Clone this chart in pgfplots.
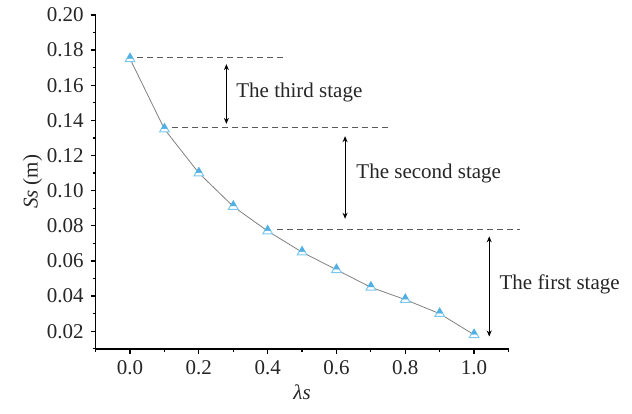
\documentclass[border=0pt]{standalone}
\usepackage{fontspec}
\setmainfont{Liberation Serif}
\usepackage{pgfplots}
\pgfplotsset{compat=1.18}
\usetikzlibrary{arrows.meta}
\definecolor{mkfill}{RGB}{80,176,228}
\definecolor{mkdraw}{RGB}{125,200,240}
\definecolor{dashc}{RGB}{90,90,90}
\begin{document}
\begin{tikzpicture}
\begin{axis}[
  scale only axis,
  width=206.5pt, height=167pt,
  xmin=-0.1, xmax=1.1, ymin=0.01, ymax=0.20,
  axis x line*=bottom, axis y line*=left,
  axis line style={line width=0.8pt, -},
  xtick={0,0.2,0.4,0.6,0.8,1.0},
  minor xtick={-0.1,0.1,0.3,0.5,0.7,0.9,1.1},
  ytick={0.02,0.04,...,0.201},
  minor ytick={0.01,0.03,0.05,0.07,0.09,0.11,0.13,0.15,0.17,0.19},
  tick align=outside,
  major tick length=2.5pt, minor tick length=1.5pt,
  tick style={line width=0.6pt, black},
  /pgf/number format/assume math mode=true,
  xticklabel style={/pgf/number format/.cd, fixed, fixed zerofill, precision=1},
  yticklabel style={/pgf/number format/.cd, fixed, fixed zerofill, precision=2},
  scaled y ticks=false,
  ticklabel style={font=\fontsize{10.5}{12}\selectfont, text=black!85},
  label style={font=\fontsize{10.5}{12}\selectfont, text=black!85},
  xlabel={\textit{λs}},
  ylabel={\textit{Ss} (m)},
  xlabel style={yshift=2pt},
  ylabel style={yshift=-4.5pt},
  clip=false,
]
\addplot[color=gray, line width=0.4pt, mark=triangle*, mark size=2.8pt,
  mark options={fill=white, draw=mkdraw, line width=0.5pt, solid}]
  coordinates {(0.0,0.175) (0.1,0.135) (0.2,0.110) (0.3,0.091) (0.4,0.077)
  (0.5,0.065) (0.6,0.055) (0.7,0.045) (0.8,0.038) (0.9,0.030) (1.0,0.018)};
\addplot[draw=none, mark=triangle*, mark size=1.7pt,
  mark options={fill=mkfill, draw=mkfill, line width=0.2pt, yshift=1.1pt}]
  coordinates {(0.0,0.175) (0.1,0.135) (0.2,0.110) (0.3,0.091) (0.4,0.077)
  (0.5,0.065) (0.6,0.055) (0.7,0.045) (0.8,0.038) (0.9,0.030) (1.0,0.018)};
\draw[dashc, line width=0.4pt, dash pattern=on 3pt off 2pt] (axis cs:0.02,0.176) -- (axis cs:0.453,0.176);
\draw[dashc, line width=0.4pt, dash pattern=on 3pt off 2pt] (axis cs:0.122,0.136) -- (axis cs:0.756,0.136);
\draw[dashc, line width=0.4pt, dash pattern=on 3pt off 2pt] (axis cs:0.427,0.078) -- (axis cs:1.134,0.078);
\draw[black, line width=0.5pt, {Stealth[length=3pt,width=2.5pt]}-{Stealth[length=3pt,width=2.5pt]}] (axis cs:0.28,0.172) -- (axis cs:0.28,0.138);
\draw[black, line width=0.5pt, {Stealth[length=3pt,width=2.5pt]}-{Stealth[length=3pt,width=2.5pt]}] (axis cs:0.625,0.131) -- (axis cs:0.625,0.084);
\draw[black, line width=0.5pt, {Stealth[length=3pt,width=2.5pt]}-{Stealth[length=3pt,width=2.5pt]}] (axis cs:1.044,0.074) -- (axis cs:1.044,0.017);
\node[anchor=west, font=\fontsize{10.5}{12}\selectfont, text=black!85, inner sep=0pt] at (axis cs:0.308,0.1556) {The third stage};
\node[anchor=west, font=\fontsize{10.5}{12}\selectfont, text=black!85, inner sep=0pt] at (axis cs:0.657,0.110) {The second stage};
\node[anchor=west, font=\fontsize{10.5}{12}\selectfont, text=black!85, inner sep=0pt] at (axis cs:1.073,0.0468) {The first stage};
\draw[draw=none] (axis cs:-0.378,-0.0267) rectangle (axis cs:1.459,0.2085);
\end{axis}
\end{tikzpicture}
\end{document}
